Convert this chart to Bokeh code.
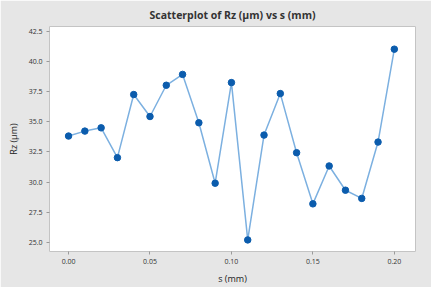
from bokeh.plotting import figure
from bokeh.models import Range1d, FixedTicker, NumeralTickFormatter
from bokeh.embed import file_html
from bokeh.resources import INLINE

s_mm = [0.00, 0.01, 0.02, 0.03, 0.04, 0.05, 0.06, 0.07, 0.08, 0.09, 0.10,
        0.11, 0.12, 0.13, 0.14, 0.15, 0.16, 0.17, 0.18, 0.19, 0.20]
rz_um = [33.82, 34.23, 34.5, 32.03, 37.26, 35.44, 38.03, 38.93, 34.92, 29.91, 38.25,
         25.21, 33.9, 37.34, 32.44, 28.2, 31.34, 29.33, 28.65, 33.32, 41.02]
x_ticks = [0.00, 0.05, 0.10, 0.15, 0.20]
y_ticks = [25.0, 27.5, 30.0, 32.5, 35.0, 37.5, 40.0, 42.5]

p = figure(width=431, height=281, output_backend="svg", toolbar_location=None,
           title="Scatterplot of Rz (µm) vs s (mm)",
           x_range=Range1d(-0.0117, 0.213), y_range=Range1d(24.25, 42.9),
           min_border_left=49, min_border_right=16, min_border_top=24, min_border_bottom=32)
p.frame_width = 366
p.frame_height = 225

p.background_fill_color = "white"
p.border_fill_color = "#e6e6e6"
p.outline_line_color = "#c4c4c4"
p.outline_line_width = 1
p.xgrid.visible = False
p.ygrid.visible = False

p.title.align = "center"
p.title.text_font = "Open Sans"
p.title.text_font_size = "10.5px"
p.title.text_font_style = "bold"
p.title.text_color = "#333333"
p.title.offset = 0

for ax in (p.xaxis[0], p.yaxis[0]):
    ax.axis_line_color = None
    ax.major_tick_line_color = "#9a9a9a"
    ax.major_tick_in = 0
    ax.major_tick_out = 3
    ax.minor_tick_line_color = None
    ax.major_label_text_font = "Open Sans"
    ax.major_label_text_font_size = "7px"
    ax.major_label_text_color = "#333333"
    ax.axis_label_text_font = "Open Sans"
    ax.axis_label_text_font_size = "9px"
    ax.axis_label_text_font_style = "normal"
    ax.axis_label_text_color = "#222222"
    ax.major_label_standoff = 4

p.xaxis.ticker = FixedTicker(ticks=x_ticks)
p.yaxis.ticker = FixedTicker(ticks=y_ticks)
p.xaxis.formatter = NumeralTickFormatter(format="0.00")
p.yaxis.formatter = NumeralTickFormatter(format="0.0")
p.xaxis.axis_label = "s (mm)"
p.yaxis.axis_label = "Rz (µm)"
p.xaxis.axis_label_standoff = 5
p.yaxis.axis_label_standoff = 6

p.line(s_mm, rz_um, line_color="#7cb0e0", line_width=1.5)
p.scatter(s_mm, rz_um, size=6.5, fill_color="#0b5cad", line_color="#0b5cad")

open("out.html", "w").write(file_html(p, INLINE))
